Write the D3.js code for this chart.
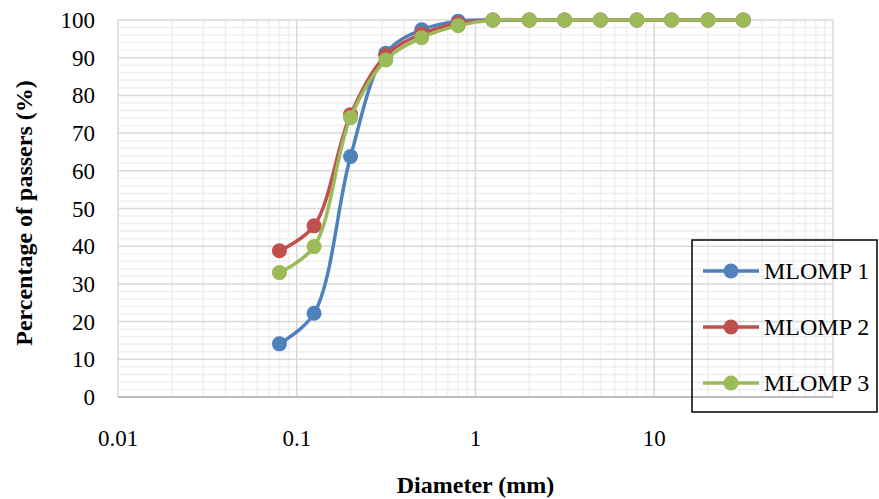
<!DOCTYPE html>
<html>
<head>
<meta charset="utf-8">
<script src="https://cdn.jsdelivr.net/npm/d3@7"></script>
<style>
  body { margin: 0; background: #fff; }
  svg text { font-family: "Liberation Serif", "Times New Roman", serif; fill: #000; }
</style>
</head>
<body>
<div id="container"></div>
<script>
// Sieve sizes (mm)
const diameters = [0.08, 0.125, 0.2, 0.315, 0.5, 0.8, 1.25, 2, 3.15, 5, 8, 12.5, 20, 31.5];

// Percentage passing for each sample
const mlomp1 = [14.1, 22.2, 63.8, 91.2, 97.4, 99.7, 100, 100, 100, 100, 100, 100, 100, 100];
const mlomp2 = [38.8, 45.4, 74.9, 90.6, 96.3, 99.1, 100, 100, 100, 100, 100, 100, 100, 100];
const mlomp3 = [33.0, 39.9, 74.1, 89.4, 95.3, 98.5, 100, 100, 100, 100, 100, 100, 100, 100];

const seriesNames = ["MLOMP 1", "MLOMP 2", "MLOMP 3"];
const seriesColors = ["#4F81BD", "#C0504D", "#9BBB59"];
const xTickValues = [0.01, 0.1, 1, 10];
const yTickValues = [0, 10, 20, 30, 40, 50, 60, 70, 80, 90, 100];

const width = 879, height = 499;
const plot = { left: 118, right: 833, top: 20, bottom: 397 };

const svg = d3.select("#container")
  .append("svg")
  .attr("width", width)
  .attr("height", height);

// Scales
const x = d3.scaleLog().domain([0.01, 100]).range([plot.left, plot.right]);
const y = d3.scaleLinear().domain([0, 100]).range([plot.bottom, plot.top]);

// Minor gridlines (horizontal every 2, vertical log 2..9)
const minorY = d3.range(0, 101, 2).filter(v => v % 10 !== 0);
const minorX = [];
[0.01, 0.1, 1, 10].forEach(dec => {
  for (let k = 2; k <= 9; k++) minorX.push(dec * k);
});

const grid = svg.append("g");
grid.selectAll(".minor-y")
  .data(minorY)
  .join("line")
  .attr("x1", plot.left).attr("x2", plot.right)
  .attr("y1", d => y(d)).attr("y2", d => y(d))
  .attr("stroke", "#efefef").attr("stroke-width", 1.5);
grid.selectAll(".minor-x")
  .data(minorX)
  .join("line")
  .attr("x1", d => x(d)).attr("x2", d => x(d))
  .attr("y1", plot.top).attr("y2", plot.bottom)
  .attr("stroke", "#efefef").attr("stroke-width", 1.5);

// Major gridlines
grid.selectAll(".major-y")
  .data(yTickValues.filter(v => v > 0))
  .join("line")
  .attr("x1", plot.left).attr("x2", plot.right)
  .attr("y1", d => y(d)).attr("y2", d => y(d))
  .attr("stroke", "#d9d9d9").attr("stroke-width", 1.5);
grid.selectAll(".major-x")
  .data([0.01, 0.1, 1, 10, 100])
  .join("line")
  .attr("x1", d => x(d)).attr("x2", d => x(d))
  .attr("y1", plot.top).attr("y2", plot.bottom)
  .attr("stroke", "#d9d9d9").attr("stroke-width", 1.5);

// Bottom axis line
svg.append("line")
  .attr("x1", plot.left).attr("x2", plot.right)
  .attr("y1", plot.bottom).attr("y2", plot.bottom)
  .attr("stroke", "#bfbfbf").attr("stroke-width", 2);

// Tick labels
svg.append("g").selectAll("text")
  .data(yTickValues)
  .join("text")
  .attr("x", 95)
  .attr("y", d => y(d))
  .attr("dy", "0.35em")
  .attr("text-anchor", "end")
  .style("font-size", "23px")
  .text(d => d);

svg.append("g").selectAll("text")
  .data(xTickValues)
  .join("text")
  .attr("x", d => x(d))
  .attr("y", 446)
  .attr("text-anchor", "middle")
  .style("font-size", "23px")
  .text(d => d);

// Axis titles
svg.append("text")
  .attr("x", x(1))
  .attr("y", 493)
  .attr("text-anchor", "middle")
  .style("font-size", "24px")
  .style("font-weight", "bold")
  .text("Diameter (mm)");

svg.append("text")
  .attr("transform", "translate(32,213) rotate(-90)")
  .attr("text-anchor", "middle")
  .style("font-size", "24px")
  .style("font-weight", "bold")
  .text("Percentage of passers (%)");

// Series
const series = [mlomp1, mlomp2, mlomp3].map((vals, i) => ({
  name: seriesNames[i],
  color: seriesColors[i],
  points: diameters.map((d, j) => ({ d: d, v: vals[j] }))
}));

const line = d3.line()
  .x(p => x(p.d))
  .y(p => y(p.v))
  .curve(d3.curveCatmullRom.alpha(0.5));

series.forEach(s => {
  const g = svg.append("g");
  g.append("path")
    .datum(s.points)
    .attr("d", line)
    .attr("fill", "none")
    .attr("stroke", s.color)
    .attr("stroke-width", 3.5);
  g.selectAll("circle")
    .data(s.points)
    .join("circle")
    .attr("cx", p => x(p.d))
    .attr("cy", p => y(p.v))
    .attr("r", 7.5)
    .attr("fill", s.color);
});

// Legend
const legend = svg.append("g");
legend.append("rect")
  .attr("x", 692).attr("y", 240)
  .attr("width", 185).attr("height", 172)
  .attr("fill", "none")
  .attr("stroke", "#000")
  .attr("stroke-width", 1.5);

const legendY = [271, 327, 383];
series.forEach((s, i) => {
  legend.append("line")
    .attr("x1", 703).attr("x2", 759)
    .attr("y1", legendY[i]).attr("y2", legendY[i])
    .attr("stroke", s.color).attr("stroke-width", 3.5);
  legend.append("circle")
    .attr("cx", 731).attr("cy", legendY[i])
    .attr("r", 7.5).attr("fill", s.color);
  legend.append("text")
    .attr("x", 764).attr("y", legendY[i])
    .attr("dy", "0.35em")
    .style("font-size", "24px")
    .text(s.name);
});
</script>
</body>
</html>
